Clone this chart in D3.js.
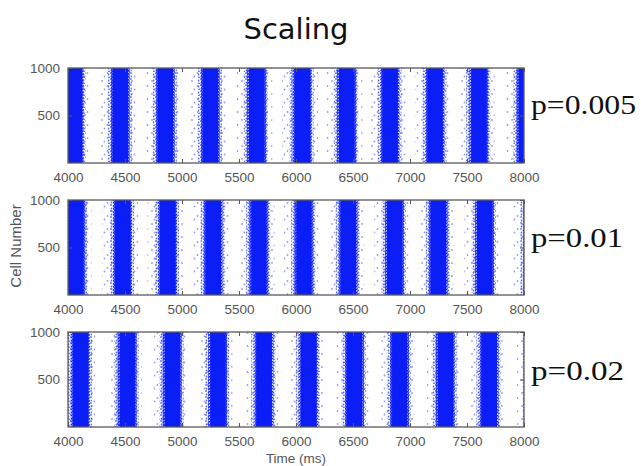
<!DOCTYPE html>
<html>
<head>
    <title>Scaling</title>
    <script src="https://cdnjs.cloudflare.com/ajax/libs/d3/7.8.5/d3.min.js"></script>
    <style>
        body {
            margin: 0;
            background: #fff;
        }
        svg text {
            font-family: "Liberation Sans", Arial, sans-serif;
        }
    </style>
</head>
<body>
    <svg id="chart" width="641" height="466"></svg>

    <script>
        // Datos (centros de cada ráfaga, en ms)
        const panelLabels = ["p=0.005", "p=0.01", "p=0.02"];
        const burstsP005 = [4055, 4460, 4855, 5250, 5655, 6055, 6445, 6825, 7220, 7605, 8020];
        const burstsP01 = [4070, 4480, 4875, 5275, 5675, 6070, 6460, 6865, 7250, 7655, 8080];
        const burstsP02 = [4110, 4520, 4915, 5315, 5720, 6110, 6515, 6910, 7310, 7695, 8100];
        const coreWidth = [135, 135, 135];     // ancho del núcleo denso (ms)
        const haloBefore = [110, 110, 95];     // dispersión antes del núcleo (ms)
        const haloAfter = [70, 70, 60];        // dispersión después del núcleo (ms)
        const timeTicks = [4000, 4500, 5000, 5500, 6000, 6500, 7000, 7500, 8000];
        const cellTicks = [500, 1000];
        const timeDomain = [4000, 8000];
        const cellDomain = [0, 1000];

        const bursts = [burstsP005, burstsP01, burstsP02];
        const panelTops = [68, 200, 332];
        const panelH = 95;
        const left = 68, right = 524;
        const blue = "#0a1ef5";
        const frame = "#5a5a5a";
        const tickColor = "#555";

        const svg = d3.select("#chart");
        const defs = svg.append("defs");

        // Texturas de puntos para las zonas dispersas
        function dotPattern(id, w, h, pts, op) {
            const p = defs.append("pattern")
                .attr("id", id)
                .attr("patternUnits", "userSpaceOnUse")
                .attr("width", w)
                .attr("height", h);
            pts.forEach(([cx, cy]) => {
                p.append("circle")
                    .attr("cx", cx).attr("cy", cy).attr("r", 0.9)
                    .attr("fill", blue).attr("fill-opacity", op);
            });
        }
        dotPattern("sparse", 10, 13, [[2, 3], [7.5, 8], [4.5, 11.5]], 0.45);
        dotPattern("medium", 5, 6, [[1, 1], [3.5, 2.5], [1.5, 4.5], [4, 5.5]], 0.7);
        dotPattern("dense", 3, 3, [[0.8, 0.8], [2.2, 1.6], [1.2, 2.5]], 0.9);

        const x = d3.scaleLinear().domain(timeDomain).range([left, right]);

        // Título
        svg.append("text")
            .attr("x", 296)
            .attr("y", 39)
            .attr("text-anchor", "middle")
            .style("font-family", "'DejaVu Sans', sans-serif")
            .style("font-size", "29px")
            .attr("fill", "#111")
            .text("Scaling");

        bursts.forEach((centers, i) => {
            const top = panelTops[i];
            const y = d3.scaleLinear().domain(cellDomain).range([top + panelH, top]);
            const g = svg.append("g");

            defs.append("clipPath").attr("id", "clip" + i)
                .append("rect")
                .attr("x", left).attr("y", top)
                .attr("width", right - left).attr("height", panelH);

            const marks = g.append("g").attr("clip-path", `url(#clip${i})`);
            const half = coreWidth[i] / 2;

            function band(lo, hi, fill) {
                marks.append("g").selectAll("rect").data(centers).join("rect")
                    .attr("x", d => x(d - half - lo))
                    .attr("width", d => x(d + half + hi) - x(d - half - lo))
                    .attr("y", y(cellDomain[1]))
                    .attr("height", y(cellDomain[0]) - y(cellDomain[1]))
                    .attr("fill", fill);
            }

            // Halo disperso, borde y núcleo denso
            band(haloBefore[i], haloAfter[i], "url(#sparse)");
            band(45, 32, "url(#medium)");
            band(18, 14, "url(#dense)");
            band(0, 0, blue);

            // Ejes estilo MATLAB (marcas hacia dentro)
            const xAxis = g.append("g")
                .attr("transform", `translate(0,${top + panelH})`)
                .call(d3.axisBottom(x).tickValues(timeTicks).tickFormat(d3.format("d"))
                    .tickSizeInner(-4).tickSizeOuter(0).tickPadding(9));
            const xTop = g.append("g")
                .attr("transform", `translate(0,${top})`)
                .call(d3.axisTop(x).tickValues(timeTicks).tickFormat("")
                    .tickSizeInner(-4).tickSizeOuter(0));
            const yAxis = g.append("g")
                .attr("transform", `translate(${left},0)`)
                .call(d3.axisLeft(y).tickValues(cellTicks).tickFormat(d3.format("d"))
                    .tickSizeInner(-4).tickSizeOuter(0).tickPadding(8));
            const yRight = g.append("g")
                .attr("transform", `translate(${right},0)`)
                .call(d3.axisRight(y).tickValues(cellTicks).tickFormat("")
                    .tickSizeInner(-4).tickSizeOuter(0));

            [xAxis, xTop, yAxis, yRight].forEach(a => {
                a.select(".domain").remove();
                a.selectAll("line").attr("stroke", frame);
                a.selectAll("text")
                    .attr("fill", tickColor)
                    .style("font-size", "13.5px");
            });

            g.append("rect")
                .attr("x", left).attr("y", top)
                .attr("width", right - left).attr("height", panelH)
                .attr("fill", "none")
                .attr("stroke", frame)
                .attr("stroke-width", 1.3);

            // Etiqueta del panel
            const labelWidths = [105, 92, 93];
            const labelBase = [114, 247, 380];
            svg.append("text")
                .attr("x", 531)
                .attr("y", labelBase[i])
                .attr("textLength", labelWidths[i])
                .attr("lengthAdjust", "spacingAndGlyphs")
                .style("font-family", "'Liberation Serif', 'Times New Roman', serif")
                .style("font-size", "28px")
                .attr("fill", "#111")
                .text(panelLabels[i]);
        });

        // Títulos de ejes
        svg.append("text")
            .attr("transform", "translate(21,246) rotate(-90)")
            .attr("text-anchor", "middle")
            .attr("fill", tickColor)
            .style("font-size", "15px")
            .text("Cell Number");

        svg.append("text")
            .attr("x", 296)
            .attr("y", 463)
            .attr("text-anchor", "middle")
            .attr("fill", tickColor)
            .style("font-size", "13.5px")
            .text("Time (ms)");
    </script>
</body>
</html>
